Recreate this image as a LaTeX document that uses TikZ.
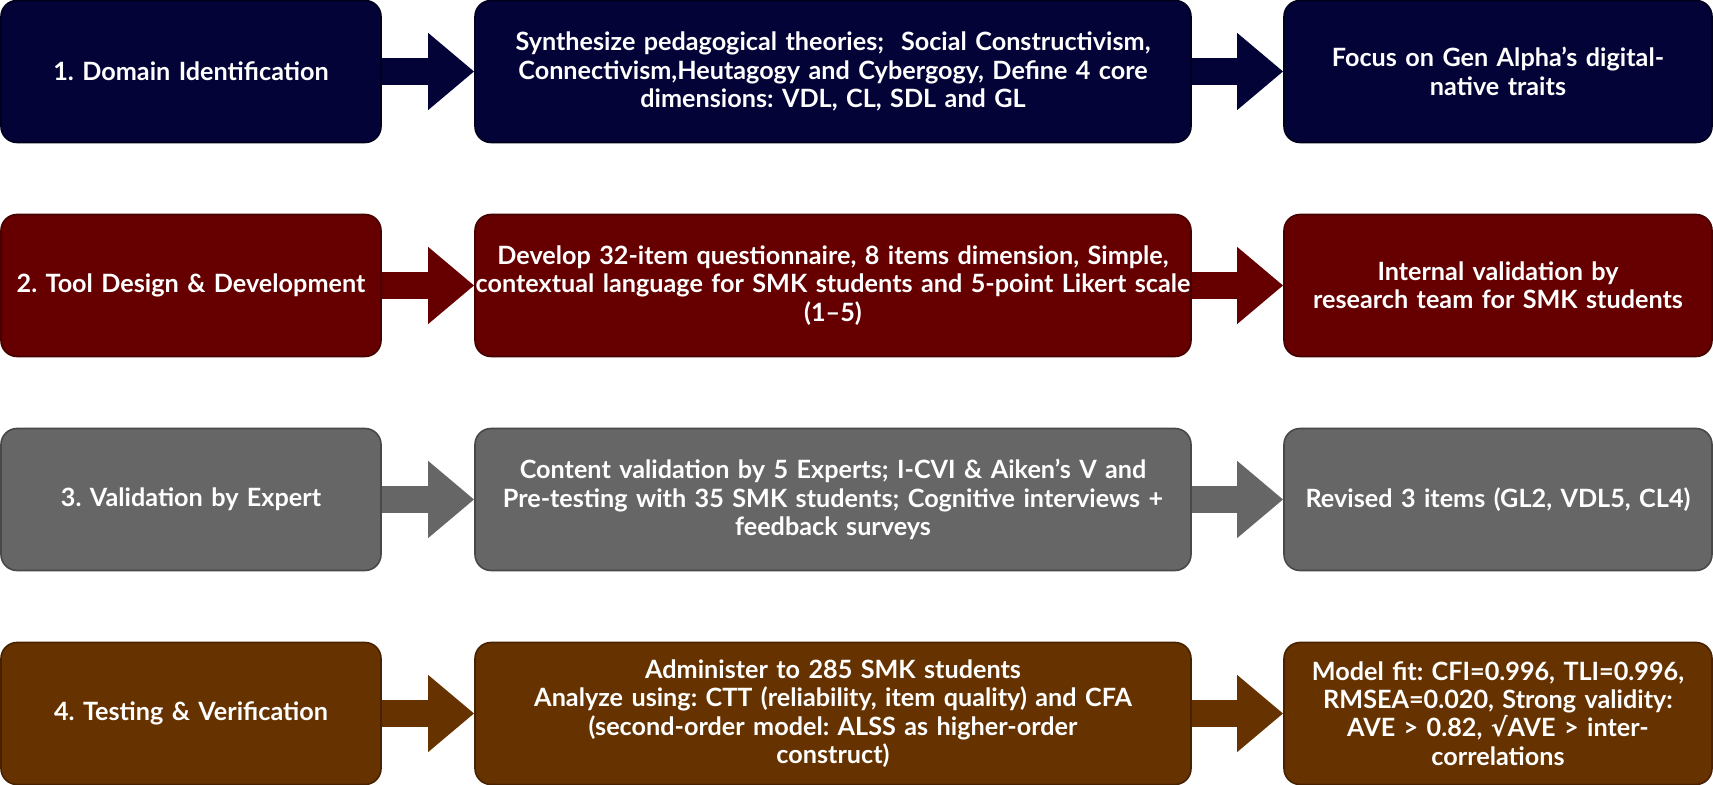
\documentclass[tikz,border=0pt]{standalone}
\usepackage{fontspec}
\setmainfont{Lato}
\newfontfamily\symfont{DejaVu Sans}
\usetikzlibrary{arrows.meta}

\definecolor{navyfill}{RGB}{3,3,56}
\definecolor{navyline}{RGB}{0,0,28}
\definecolor{maroonfill}{RGB}{102,0,0}
\definecolor{maroonline}{RGB}{70,0,0}
\definecolor{greyfill}{RGB}{102,102,102}
\definecolor{greyline}{RGB}{72,72,72}
\definecolor{brownfill}{RGB}{102,51,0}
\definecolor{brownline}{RGB}{72,34,0}

\tikzset{
    stagebox/.style={rectangle, rounded corners=8pt, draw=#1line, fill=#1fill,
        line width=0.8pt, text=white, align=center, inner sep=0pt,
        minimum height=71pt, font=\bfseries\fontsize{12.6}{14.2}\selectfont\frenchspacing},
    headbox/.style={stagebox=#1, text width=190pt},
    taskbox/.style={stagebox=#1, text width=358pt},
    outbox/.style={stagebox=#1, text width=214pt},
    stagearrow/.style={draw=#1fill, line width=13.5pt,
        -{Triangle[length=23pt, width=37pt]}},
}

\begin{document}
\begin{tikzpicture}[x=0.5pt, y=0.5pt]
        \fill[white] (0,0) rectangle (1713,785);
        \useasboundingbox (0,0) rectangle (1713,785);

        \node[headbox=navy] (domain) at (191, 713.5) {1. Domain Identification};
        \node[taskbox=navy] (synth) at (833, 713.5) {Synthesize pedagogical theories;\ \ Social Constructivism,\\ Connectivism,Heutagogy and Cybergogy, Define 4 core\\ dimensions: VDL, CL, SDL and GL};
        \node[outbox=navy] (focus) at (1498, 713.5) {Focus on Gen Alpha's digital-\\ native traits};

        \node[headbox=maroon] (design) at (191, 499.5) {2. Tool Design \& Development};
        \node[taskbox=maroon] (develop) at (833, 499.5) {Develop 32-item questionnaire, 8 items dimension, Simple,\\ contextual language for SMK students and 5-point Likert scale\\ (1--5)};
        \node[outbox=maroon] (internal) at (1498, 499.5) {Internal validation by\\ research team for SMK students};

        \node[headbox=grey] (expert) at (191, 285.5) {3. Validation by Expert};
        \node[taskbox=grey] (content) at (833, 285.5) {Content validation by 5 Experts; I-CVI \& Aiken's V and\\ Pre-testing with 35 SMK students; Cognitive interviews +\\ feedback surveys};
        \node[outbox=grey] (revised) at (1498, 285.5) {Revised 3 items (GL2, VDL5, CL4)};

        \node[headbox=brown] (testing) at (191, 71.5) {4. Testing \& Verification};
        \node[taskbox=brown] (administer) at (833, 71.5) {Administer to 285 SMK students\\ Analyze using: CTT (reliability, item quality) and CFA\\ (second-order model: ALSS as higher-order\\ construct)};
        \node[outbox=brown] (modelfit) at (1498, 71.5) {Model fit: CFI=0.996, TLI=0.996,\\ RMSEA=0.020, Strong validity:\\ AVE > 0.82, {\symfont\bfseries √}AVE > inter-\\ correlations};

        \draw[stagearrow=navy] (domain.east) -- (synth.west);
        \draw[stagearrow=navy] (synth.east) -- (focus.west);
        \draw[stagearrow=maroon] (design.east) -- (develop.west);
        \draw[stagearrow=maroon] (develop.east) -- (internal.west);
        \draw[stagearrow=grey] (expert.east) -- (content.west);
        \draw[stagearrow=grey] (content.east) -- (revised.west);
        \draw[stagearrow=brown] (testing.east) -- (administer.west);
        \draw[stagearrow=brown] (administer.east) -- (modelfit.west);

    \end{tikzpicture}
\end{document}
